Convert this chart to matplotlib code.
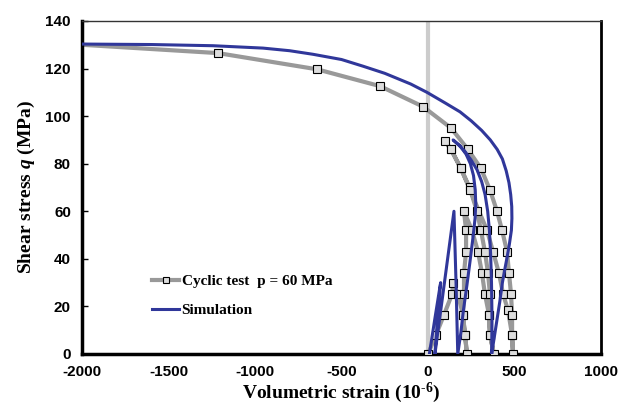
import matplotlib.pyplot as plt

plt.rcParams["axes.unicode_minus"] = False
plt.rcParams["mathtext.fontset"] = "custom"
plt.rcParams["mathtext.it"] = "Liberation Serif:italic:bold"
plt.rcParams["mathtext.rm"] = "Liberation Serif:bold"
plt.rcParams["mathtext.bf"] = "Liberation Serif:bold"

# ---------------- Data ----------------
# cyclic test, p = 60 MPa : loading / unloading path in order
test_strain = [0, 46, 92, 139, 145,
               173, 202, 214, 225,
               214, 202, 208, 208, 220, 220, 208,
               254, 289, 312, 329, 353, 358, 381,
               358, 353, 358, 347, 329, 306, 283, 240, 190, 133, 98,
               133, 190, 243, 341, 376, 410, 434, 462, 486, 491,
               486, 486, 480, 468, 457, 428, 399, 358, 306, 231, 133,
               -29, -277, -642, -1214, -2000]
test_q = [0, 8, 16.4, 25.2, 29.8,
          25.2, 16.4, 8, 0,
          8, 16.4, 25.2, 34, 43, 52, 60,
          52, 43, 34, 25.2, 16.4, 8, 0,
          8, 16.4, 25.2, 34, 43, 52, 60, 70, 78, 86, 89.5,
          86, 78, 69, 52, 43, 34, 25.2, 18.5, 8, 0,
          8, 16.4, 25.2, 34, 43, 52, 60, 69, 78, 86, 95,
          104, 112.6, 119.7, 126.5, 130]

# simulation
sim_strain = [8, 40, 73,
              55, 40,
              95, 150,
              162, 172,
              190, 204, 225, 243, 260, 272, 276, 273, 263, 245, 220, 185, 145,
              175, 210, 250, 283, 310, 330, 345, 355, 362, 367, 370, 368,
              383, 400, 415, 430, 445, 458, 470, 482, 485, 484, 478, 468, 452,
              430, 400, 360, 310, 250, 185, 100,
              -6, -100, -250, -376, -500, -665, -800, -954, -1243, -1600, -2000]
sim_q = [0, 15, 30,
         15, 0,
         30, 60,
         30, 0,
         9, 18, 29, 39, 49, 57, 63, 69, 75, 80, 84, 87.5, 90,
         88, 85.5, 81.5, 77.5, 72.5, 67, 60, 52, 42, 30, 15, 0,
         7, 15, 22, 30, 36, 41, 46, 52, 57, 62, 67, 72, 77,
         82, 86, 90, 94, 98, 101.8, 105.5,
         110, 113.5, 118, 121, 123.8, 126, 127.5, 128.6, 129.6, 130.1, 130.3]

x_ticks = [-2000, -1500, -1000, -500, 0, 500, 1000]
y_ticks = [0, 20, 40, 60, 80, 100, 120, 140]

# ---------------- Plot ----------------
fig = plt.figure(figsize=(6.18, 4.09), dpi=100)
ax = fig.add_axes([0.1327, 0.1345, 0.8398, 0.8142])

ax.plot([0, 0], [0, 140], color="#cccccc", lw=3, zorder=1)

ax.plot(test_strain, test_q, color="#999999", lw=3, zorder=2, solid_joinstyle="round")
ax.plot(test_strain[:-1], test_q[:-1], ls="none", marker="s", ms=6,
        mfc="#dddddd", mec="black", mew=0.8, zorder=3)
ax.plot(sim_strain, sim_q, color="#30379a", lw=2.2, zorder=4, solid_joinstyle="round")

# legend proxies
h1, = ax.plot([], [], color="#999999", lw=3, marker="s", ms=5,
              mfc="#dddddd", mec="black", mew=0.8)
h2, = ax.plot([], [], color="#30379a", lw=2.2)
leg = ax.legend([h1, h2], ["Cyclic test  p = 60 MPa", "Simulation"],
                loc="lower left", bbox_to_anchor=(0.108, 0.07), frameon=False,
                handlelength=1.8, handletextpad=0.15, labelspacing=1.0,
                prop={"family": "Liberation Serif", "weight": "bold", "size": 11})

ax.set_xlim(-2000, 1000)
ax.set_ylim(0, 140)
ax.set_xticks(x_ticks)
ax.set_yticks(y_ticks)
for lab in ax.get_xticklabels() + ax.get_yticklabels():
    lab.set_family("Liberation Sans")
    lab.set_weight("bold")
    lab.set_size(11)
ax.tick_params(axis="y", direction="in", length=4, width=1, pad=8)
ax.tick_params(axis="x", direction="in", length=0, pad=8)

ax.set_xlabel("Volumetric strain (10$^{\u2010 6}$)", family="Liberation Serif",
              weight="bold", size=14, labelpad=1)
ax.set_ylabel("Shear stress $q$ (MPa)", family="Liberation Serif",
              weight="bold", size=14, labelpad=6)

for s in ["left", "bottom"]:
    ax.spines[s].set_linewidth(2.5)
    ax.spines[s].set_color("black")
ax.spines["right"].set_linewidth(2)
ax.spines["top"].set_linewidth(1)
ax.spines["top"].set_color("#333333")

fig.savefig("out.png", dpi=100)
